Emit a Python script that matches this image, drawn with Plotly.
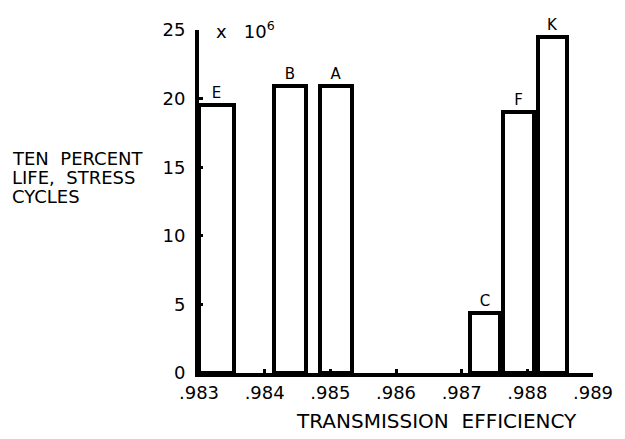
import plotly.graph_objects as go

# Data
labels = ["E", "B", "A", "C", "F", "K"]
efficiency_center = [0.98327, 0.98439, 0.98509, 0.98736, 0.98787, 0.98838]
bar_width = [0.00053, 0.00049, 0.00049, 0.00046, 0.00047, 0.00044]
life_cycles = [19.5, 20.9, 20.9, 4.4, 19.0, 24.5]  # x 10^6

x_tickvals = [0.983, 0.984, 0.985, 0.986, 0.987, 0.988, 0.989]
x_ticktext = [".983", ".984", ".985", ".986", ".987", ".988", ".989"]
y_tickvals = [0, 5, 10, 15, 20, 25]

y_title_lines = ["TEN&nbsp; PERCENT", "LIFE,&nbsp; STRESS", "CYCLES"]
x_title = "TRANSMISSION&nbsp; EFFICIENCY"

FONT = "DejaVu Sans"

fig = go.Figure()
fig.add_trace(go.Bar(
    x=efficiency_center,
    y=life_cycles,
    width=bar_width,
    text=labels,
    textposition="outside",
    textfont=dict(family=FONT, size=15, color="black"),
    cliponaxis=False,
    marker=dict(color="white", line=dict(color="black", width=4)),
    showlegend=False,
))

L, R, T, B = 199, 21, 30, 66
W, H = 625, 439
pw, ph = W - L - R, H - T - B

def px(xpix):
    return (xpix - L) / pw

def py(ypix):
    return (H - B - ypix) / ph

annotations = [
    dict(text="x &nbsp; 10<sup>6</sup>", x=px(214), y=py(30), xref="paper", yref="paper",
         xanchor="left", yanchor="middle", showarrow=False,
         font=dict(family=FONT, size=18)),
    dict(text=x_title, x=px(443), y=py(421),
         xref="paper", yref="paper", xanchor="center", yanchor="middle",
         showarrow=False, font=dict(family=FONT, size=20)),
]
for i, line in enumerate(y_title_lines):
    annotations.append(dict(text=line, x=px(5), y=py(158 + 19 * i),
                            xref="paper", yref="paper", xanchor="left", yanchor="middle",
                            showarrow=False, font=dict(family=FONT, size=18)))

fig.update_layout(
    width=W, height=H,
    margin=dict(l=L, r=R, t=T, b=B),
    paper_bgcolor="white", plot_bgcolor="white",
    font=dict(family=FONT, color="black"),
    bargap=0,
    xaxis=dict(
        range=[0.983, 0.989],
        tickvals=x_tickvals, ticktext=x_ticktext,
        showline=True, linewidth=4, linecolor="black",
        ticks="inside", ticklen=4, tickwidth=3, tickcolor="black",
        showgrid=False, zeroline=False,
        tickfont=dict(family=FONT, size=18),
    ),
    yaxis=dict(
        range=[0, 25],
        tickvals=y_tickvals,
        showline=True, linewidth=4, linecolor="black",
        ticks="inside", ticklen=4, tickwidth=3, tickcolor="black",
        showgrid=False, zeroline=False,
        tickfont=dict(family=FONT, size=18),
        ticklabelstandoff=6,
    ),
    annotations=annotations,
)

fig.write_html("out.html")
